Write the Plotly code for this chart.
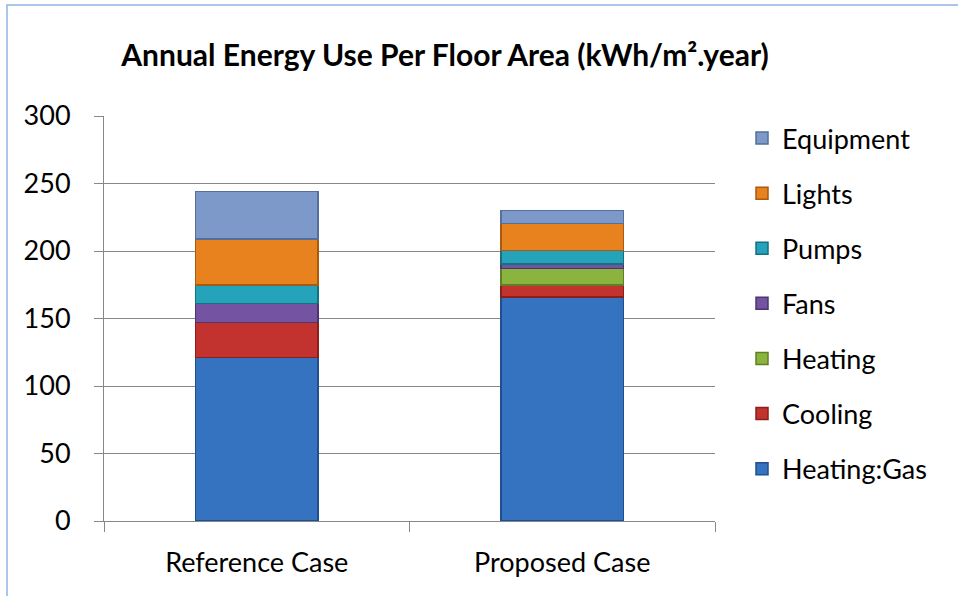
import plotly.graph_objects as go

categories = ["Reference Case", "Proposed Case"]
series_names = ["Heating:Gas", "Cooling", "Heating", "Fans", "Pumps", "Lights", "Equipment"]
heating_gas = [121, 166]
cooling = [26, 9]
heating = [0, 12]
fans = [14, 3.5]
pumps = [14, 10]
lights = [34, 20]
equipment = [35, 9.5]
y_ticks = [0, 50, 100, 150, 200, 250, 300]

values = [heating_gas, cooling, heating, fans, pumps, lights, equipment]
colors = ["#3572c0", "#c2322e", "#8ab43e", "#7453a3", "#25a3bb", "#e8821f", "#7c99c9"]
lines = ["#1f4f8f", "#8a1f1c", "#5f7f25", "#4d3570", "#16707f", "#a85a10", "#536f9a"]

FONT = "Lato"
W, H = 958, 596
L, R, T, B = 104, 715, 116, 521

fig = go.Figure()
for i, (name, vals, c, lc) in enumerate(zip(series_names, values, colors, lines)):
    fig.add_trace(go.Bar(
        x=categories, y=vals, name=name, legendgroup=name, legendrank=100 - i,
        marker=dict(color=c, line=dict(color=lc, width=1.5)),
    ))

fig.update_layout(
    barmode="stack",
    bargap=0.6,
    width=W, height=H,
    margin=dict(l=L, r=W - R, t=T, b=H - B, pad=0),
    paper_bgcolor="white", plot_bgcolor="white",
    font=dict(family=FONT, size=27, color="black"),
    title=dict(text="<b>Annual Energy Use Per Floor Area (kWh/m².year)</b>",
               x=445 / W, xanchor="center", y=1 - 55 / H, yanchor="middle",
               font=dict(family=FONT, size=30, color="black")),
    legend=dict(x=(742 - L) / (R - L), xanchor="left", y=(B - 114) / (B - T), yanchor="top",
                traceorder="grouped", tracegroupgap=17, maxheight=560,
                font=dict(family=FONT, size=27), bgcolor="rgba(0,0,0,0)"),
    showlegend=True,
)
fig.update_yaxes(range=[0, 300], tickvals=y_ticks, showgrid=True, gridcolor="#888888", gridwidth=1,
                 showline=True, linecolor="#888888", linewidth=1, ticks="outside", ticklen=9,
                 tickcolor="#888888", ticklabelstandoff=18, zeroline=False)
fig.update_xaxes(showline=True, linecolor="#888888", linewidth=1, ticks="outside", ticklen=10,
                 tickcolor="#888888", tickson="boundaries", ticklabelstandoff=18, mirror=False)

fig.add_shape(type="rect", xref="paper", yref="paper",
              x0=(7 - L) / (R - L), x1=(1000 - L) / (R - L),
              y0=(B - 640) / (B - T), y1=(B - 5) / (B - T),
              line=dict(color="#8eb4e3", width=1.5), fillcolor="rgba(0,0,0,0)", layer="below")

fig.write_html("out.html", config={"displayModeBar": False},
               post_script="document.body.style.margin='0px';document.body.style.overflow='hidden';")
